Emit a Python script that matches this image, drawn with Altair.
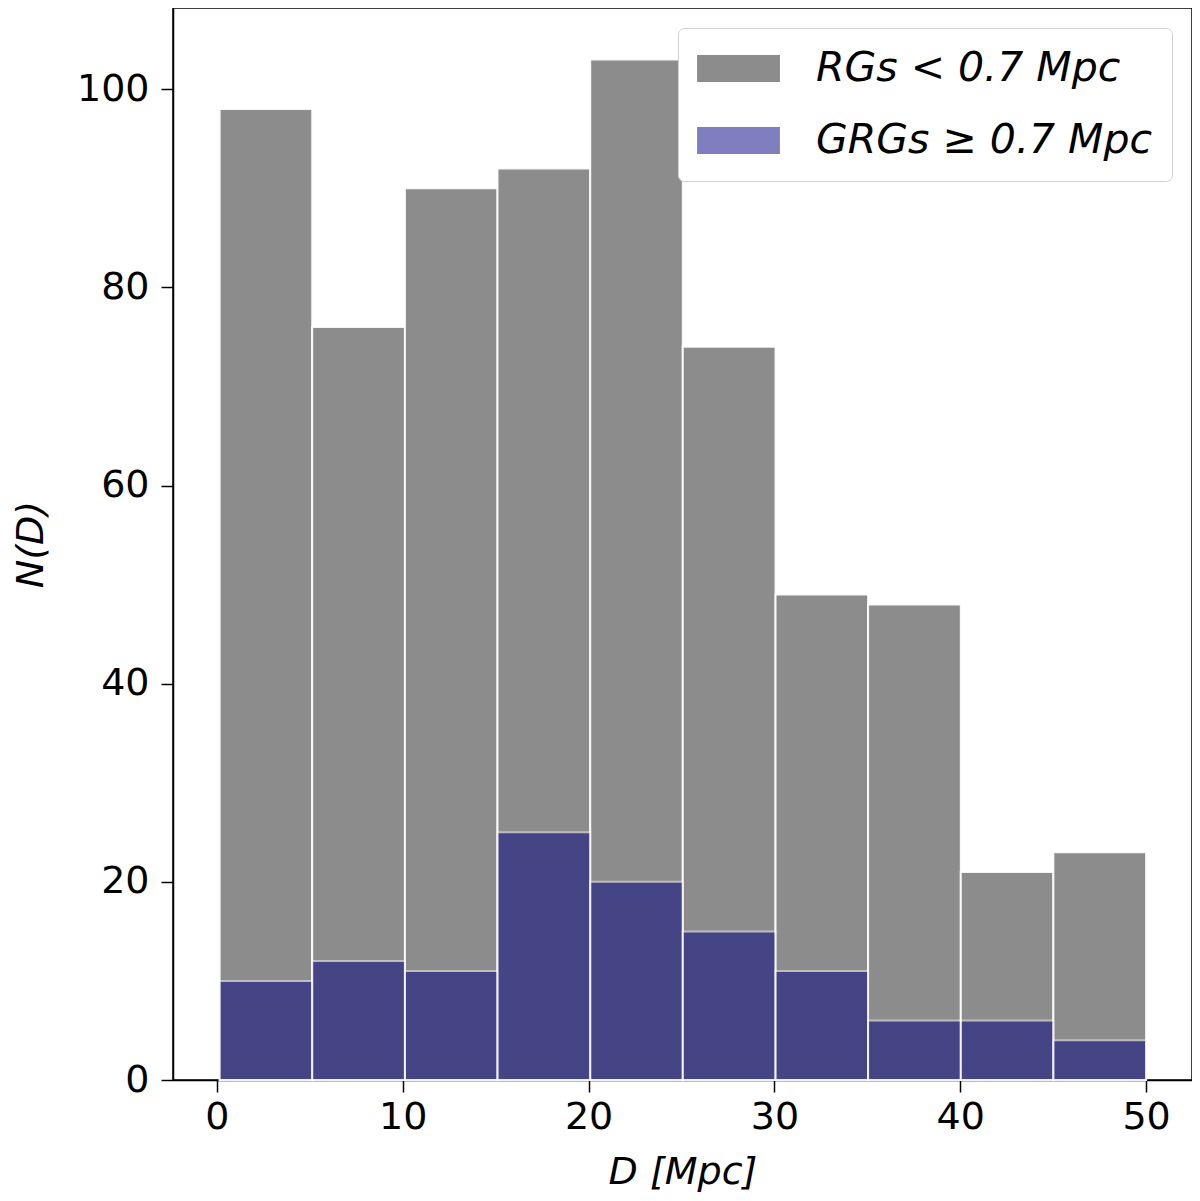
import altair as alt
import pandas as pd

# bin edges of D [Mpc] and counts per bin
bin_lo = [0.15, 5.13, 10.12, 15.10, 20.09, 25.07, 30.06, 35.04, 40.03, 45.01]
bin_hi = [5.13, 10.12, 15.10, 20.09, 25.07, 30.06, 35.04, 40.03, 45.01, 50.0]
rg_counts = [98, 76, 90, 92, 103, 74, 49, 48, 21, 23]
grg_counts = [10, 12, 11, 25, 20, 15, 11, 6, 6, 4]

rg_label = 'RGs < 0.7 Mpc'
grg_label = 'GRGs ≥ 0.7 Mpc'

x_ticks = [0, 10, 20, 30, 40, 50]
y_ticks = [0, 20, 40, 60, 80, 100]

rows = []
for lo, hi, n in zip(bin_lo, bin_hi, rg_counts):
    rows.append({'lo': lo, 'hi': hi, 'count': n, 'series': rg_label, 'order': 0})
for lo, hi, n in zip(bin_lo, bin_hi, grg_counts):
    rows.append({'lo': lo, 'hi': hi, 'count': n, 'series': grg_label, 'order': 1})
df = pd.DataFrame(rows)

# wide flat legend patch: path drawn wider than the nominal symbol size
patch = 'M-3.07,-1L3.07,-1L3.07,1L-3.07,1Z'

chart = alt.Chart(df).mark_bar(stroke='white', strokeWidth=2, strokeOpacity=0.9).encode(
    x=alt.X('lo:Q', title='D [Mpc]',
            scale=alt.Scale(domain=[-2.36, 52.47], nice=False, zero=False),
            axis=alt.Axis(values=x_ticks)),
    x2='hi:Q',
    y=alt.Y('count:Q', title='N(D)', stack=None,
            scale=alt.Scale(domain=[0, 108.2], nice=False),
            axis=alt.Axis(values=y_ticks)),
    y2=alt.datum(0),
    color=alt.Color('series:N',
                    scale=alt.Scale(domain=[rg_label, grg_label], range=['#8c8c8c', '#000080']),
                    legend=alt.Legend(title=None, orient='top-right', offset=20,
                                      symbolType=patch, symbolSize=729,
                                      symbolStrokeWidth=0, symbolOffset=20,
                                      labelFontSize=41, labelFontStyle='italic',
                                      labelOffset=57, rowPadding=30, padding=20,
                                      fillColor='white', strokeColor='#d0d0d0',
                                      cornerRadius=6, labelLimit=500)),
    opacity=alt.Opacity('series:N',
                        scale=alt.Scale(domain=[rg_label, grg_label], range=[1.0, 0.5]),
                        legend=None),
    order=alt.Order('order:Q')
).properties(
    width=1019, height=1072,
    autosize=alt.AutoSizeParams(type='none'),
    padding={'left': 165, 'top': 0, 'right': 0, 'bottom': 118}
).configure(
    font='DejaVu Sans'
).configure_view(
    stroke='black', strokeWidth=1.5
).configure_axis(
    grid=False, domainColor='black', domainWidth=1.5,
    tickColor='black', tickWidth=1.5, tickSize=12,
    labelFontSize=38, labelColor='black', labelPadding=6,
    titleFontSize=38, titleFont='DejaVu Sans', titleFontStyle='italic',
    titleFontWeight='normal', titleColor='black'
).configure_axisY(
    labelPadding=12, titlePadding=26
).configure_axisX(
    titlePadding=17
)

chart.save('out.html', embed_options={'renderer': 'svg', 'actions': False})
